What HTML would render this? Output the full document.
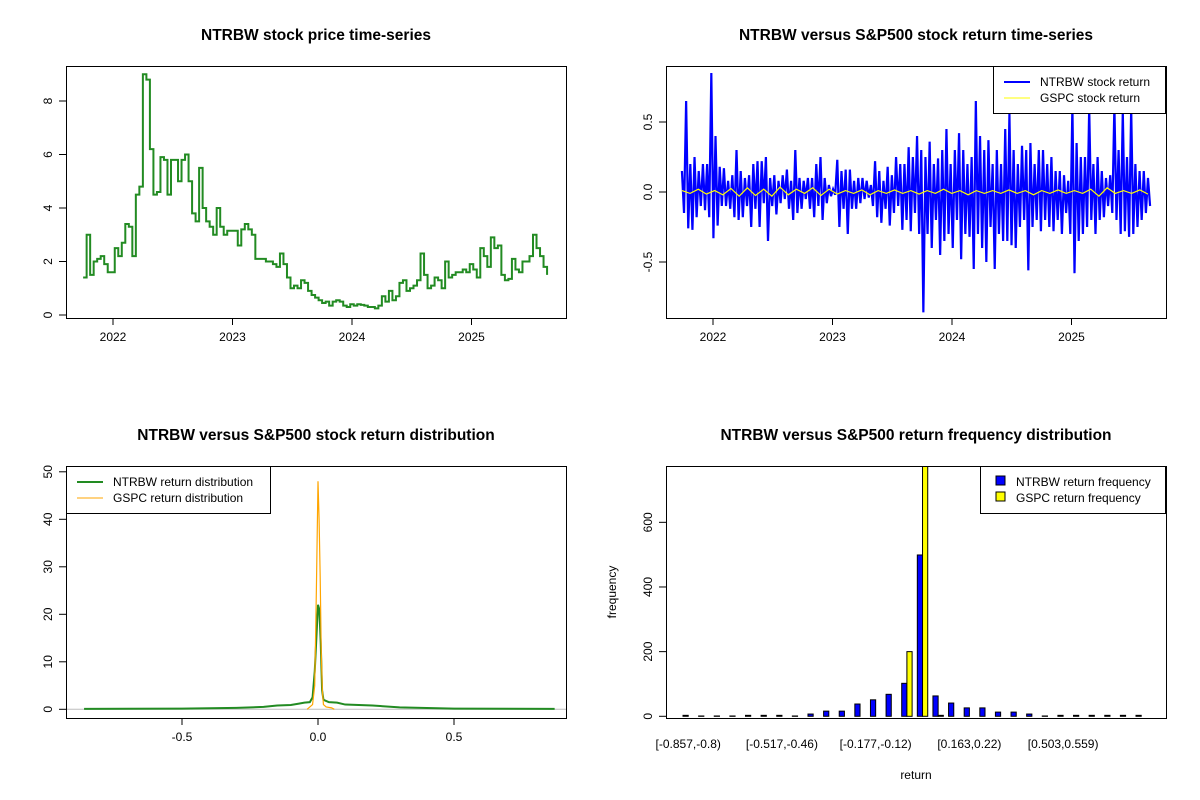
<!DOCTYPE html>
<html><head><meta charset="utf-8"><style>
html,body{margin:0;padding:0;background:#fff;}
svg{display:block;font-family:"Liberation Sans",Arial,sans-serif;}
</style></head><body>
<svg id="root" width="1200" height="800" viewBox="0 0 1200 800"></svg>
<script>
// ---------- DATA ----------
const priceStart = 2021.75;
const priceStep = 10/340;
const priceValues = [1.4,3.0,1.5,2.0,2.1,2.2,1.9,1.6,1.6,2.5,2.2,2.7,3.4,3.3,2.2,4.5,4.8,9.0,8.8,6.2,4.5,4.6,5.9,5.8,4.5,5.8,5.8,5.0,5.8,6.0,5.0,3.8,3.5,5.5,4.0,3.5,3.3,3.0,4.0,3.3,3.0,3.15,3.15,3.15,2.6,3.2,3.4,3.2,3.0,2.1,2.1,2.1,2.0,2.0,1.9,1.8,2.3,1.9,1.4,1.0,1.1,1.0,1.3,1.2,0.9,0.75,0.65,0.55,0.45,0.5,0.35,0.5,0.55,0.5,0.35,0.3,0.4,0.35,0.4,0.38,0.35,0.3,0.3,0.25,0.35,0.7,0.5,0.9,0.55,0.7,1.2,1.3,0.9,1.0,1.1,1.3,2.3,1.5,1.0,1.1,1.4,1.3,1.0,2.0,1.4,1.5,1.6,1.6,1.7,1.6,1.9,1.7,1.4,2.5,2.2,1.8,2.9,2.5,2.6,1.5,1.3,1.35,2.1,1.7,1.6,2.0,2.0,2.2,3.0,2.5,2.2,1.8,1.5];
const priceTicks = [0,2,4,6,8];
const yearTicks = [2022,2023,2024,2025];

const retStart = 2021.74, retEnd = 2025.64;
const retHigh = [0.15,0.65,0.2,0.25,0.15,0.2,0.2,0.85,0.4,0.18,0.17,0.08,0.12,0.3,0.15,0.1,0.12,0.2,0.22,0.22,0.25,0.1,0.12,0.08,0.12,0.16,0.08,0.3,0.1,0.08,0.1,0.1,0.2,0.25,0.1,0.05,0.02,0.23,0.15,0.16,0.16,0.08,0.1,0.1,0.08,0.05,0.22,0.15,0.08,0.18,0.12,0.25,0.2,0.2,0.32,0.25,0.4,0.3,0.25,0.36,0.2,0.24,0.3,0.45,0.2,0.3,0.42,0.3,0.2,0.25,0.65,0.4,0.3,0.37,0.2,0.3,0.2,0.45,0.56,0.3,0.2,0.33,0.3,0.35,0.2,0.3,0.3,0.2,0.25,0.15,0.15,0.12,0.08,0.62,0.35,0.25,0.25,0.6,0.2,0.25,0.15,0.1,0.12,0.62,0.3,0.58,0.25,0.6,0.2,0.15,0.15,0.1];
const retLow = [-0.15,-0.26,-0.27,-0.18,-0.1,-0.13,-0.18,-0.33,-0.24,-0.1,-0.1,-0.12,-0.18,-0.2,-0.18,-0.1,-0.25,-0.12,-0.25,-0.08,-0.35,-0.1,-0.16,-0.08,-0.05,-0.12,-0.2,-0.15,-0.12,-0.05,-0.12,-0.18,-0.1,-0.2,-0.08,-0.03,-0.02,-0.25,-0.12,-0.3,-0.12,-0.12,-0.08,-0.05,-0.04,-0.1,-0.18,-0.22,-0.12,-0.24,-0.15,-0.1,-0.27,-0.2,-0.28,-0.15,-0.3,-0.86,-0.3,-0.4,-0.2,-0.45,-0.35,-0.3,-0.4,-0.2,-0.48,-0.3,-0.32,-0.55,-0.3,-0.4,-0.5,-0.25,-0.55,-0.3,-0.35,-0.35,-0.38,-0.4,-0.25,-0.2,-0.56,-0.25,-0.2,-0.28,-0.2,-0.25,-0.28,-0.2,-0.3,-0.15,-0.3,-0.58,-0.35,-0.3,-0.25,-0.2,-0.3,-0.2,-0.18,-0.1,-0.15,-0.2,-0.3,-0.28,-0.32,-0.3,-0.25,-0.2,-0.15,-0.1];
const gspcRet = [0.01,-0.01,0.02,-0.015,0.01,-0.02,0.025,-0.03,0.03,-0.025,0.02,-0.03,0.035,-0.02,0.02,-0.01,0.03,-0.025,0.02,-0.015,0.01,-0.01,0.015,-0.02,0.01,-0.01,0.015,-0.01,0.01,-0.015,0.01,-0.01,0.02,-0.01,0.01,-0.02,0.01,-0.01,0.01,-0.01,0.015,-0.01,0.01,-0.02,0.01,-0.01,0.015,-0.01,0.01,-0.01,0.02,-0.03,0.03,-0.01,0.01,-0.01,0.015,-0.015];
const retTicks = [-0.5,0.0,0.5];

const densX = [-0.86,-0.5,-0.3,-0.2,-0.15,-0.1,-0.07,-0.05,-0.03,-0.02,-0.012,-0.006,0,0.005,0.01,0.015,0.02,0.04,0.07,0.1,0.2,0.3,0.5,0.87];
const densNTRBW = [0.1,0.15,0.3,0.5,0.8,0.9,1.2,1.4,1.5,2.5,8,15,22,21,14,4,2,1.5,1.4,1,0.8,0.4,0.15,0.1];
const densGX = [-0.04,-0.03,-0.02,-0.012,-0.006,0,0.004,0.008,0.012,0.016,0.02,0.03,0.05,0.06];
const densGSPC = [0,0.5,1,5,25,48,40,28,12,4,1,0.5,0.3,0];
const densXTicks = [-0.5,0.0,0.5];
const densYTicks = [0,10,20,30,40,50];

const histLabels = ["[-0.857,-0.8)","[-0.517,-0.46)","[-0.177,-0.12)","[0.163,0.22)","[0.503,0.559)"];
const histLabelIdx = [0,6,12,18,24];
const histNTRBW = [3,1,1,1,3,3,3,1,7,16,16,38,51,68,102,499,63,41,26,26,13,13,7,1,3,3,3,3,3,3];
const histGSPC = [0,0,0,0,0,0,0,0,0,0,0,0,0,0,200,860,3,0,0,0,0,0,0,0,0,0,0,0,0,0];
const histYTicks = [0,200,400,600];

// ---------- HELPERS ----------
const NS="http://www.w3.org/2000/svg";
const root=document.getElementById('root');
function mk(tag,attrs,parent,txt){const e=document.createElementNS(NS,tag);for(const k in attrs)e.setAttribute(k,attrs[k]);if(txt!==undefined)e.textContent=txt;(parent||root).appendChild(e);return e;}
function fmt(v){return v.toFixed(1);}
function box(g,x0,y0,x1,y1){const r=mk('rect',{x:x0+.5,y:y0+.5,width:x1-x0,height:y1-y0,fill:'none',stroke:'#000','stroke-width':1},g);

}
function title(g,x,y,t){const e=mk('text',{x:x,y:y,'text-anchor':'middle','font-size':'15.5','font-weight':'bold'},g,t);

}
function xtick(g,x,yb,label){mk('line',{x1:x,x2:x,y1:yb,y2:yb+7,stroke:'#000'},g);
const t=mk('text',{x:x,y:yb+23,'text-anchor':'middle','font-size':'12'},g,label);

}
function ytick(g,y,xl,label){mk('line',{x1:xl-7,x2:xl,y1:y,y2:y,stroke:'#000'},g);
const t=mk('text',{x:0,y:0,'text-anchor':'middle','font-size':'12',transform:`translate(${xl-14},${y}) rotate(-90)`},g,label);

}
function group(name){const g=mk('g',{});return g;}

// ---------- PANEL 1: price ----------
(function(){
const g=group('price-panel');
const X0=66,X1=566,Y0=66,Y1=318;
const xs=t=>113+(t-2022)*119.5, ys=v=>315-v*26.75;
title(g,316,40,'NTRBW stock price time-series');
let d='';
priceValues.forEach((v,i)=>{const x=xs(priceStart+i*priceStep);const y=ys(v);
 if(i===0)d+=`M${x},${y}`;else d+=`H${x}V${y}`;});
const p=mk('path',{d:d,fill:'none',stroke:'#228B22','stroke-width':2},g);


box(g,X0,Y0,X1,Y1);
yearTicks.forEach(t=>xtick(g,xs(t),Y1,String(t)));
priceTicks.forEach(v=>ytick(g,ys(v),X0,String(v)));
})();

// ---------- PANEL 2: returns ----------
(function(){
const g=group('return-panel');
const X0=666,X1=1166,Y0=66,Y1=318;
const xs=t=>713+(t-2022)*119.5, ys=v=>192-v*140;
title(g,916,40,'NTRBW versus S&P500 stock return time-series');
const n=retHigh.length;let d='';
for(let i=0;i<n;i++){const t=retStart+(retEnd-retStart)*i/(n-1);const t2=t+(retEnd-retStart)/(n-1)/2;
 d+=(i===0?'M':'L')+xs(t)+','+ys(retHigh[i])+'L'+xs(t2)+','+ys(retLow[i]);}
const p=mk('path',{d:d,fill:'none',stroke:'#0000FF','stroke-width':2.2},g);


let d2='';const m=gspcRet.length;
gspcRet.forEach((v,i)=>{const t=retStart+(retEnd-retStart)*i/(m-1);d2+=(i===0?'M':'L')+xs(t)+','+ys(v);});
const p2=mk('path',{d:d2,fill:'none',stroke:'#FFFF00','stroke-width':1.2},g);


box(g,X0,Y0,X1,Y1);
yearTicks.forEach(t=>xtick(g,xs(t),Y1,String(t)));
retTicks.forEach(v=>ytick(g,ys(v),X0,fmt(v)));
const lg=group('legend');
mk('rect',{x:993.5,y:66.5,width:172,height:47,fill:'#fff',stroke:'#000'},lg);
mk('line',{x1:1004,x2:1030,y1:82,y2:82,stroke:'#0000FF','stroke-width':2},lg);
mk('line',{x1:1004,x2:1030,y1:98,y2:98,stroke:'#FFFF00','stroke-width':1},lg);
const a=mk('text',{x:1040,y:86,'font-size':'12'},lg,'NTRBW stock return');


const b=mk('text',{x:1040,y:102,'font-size':'12'},lg,'GSPC stock return');


})();

// ---------- PANEL 3: density ----------
(function(){
const g=group('density-panel');
const X0=66,X1=566,Y0=466,Y1=718;
const xs=v=>318+v*272, ys=v=>709.3-v*4.75;
title(g,316,440,'NTRBW versus S&P500 stock return distribution');
const base=mk('line',{x1:X0,x2:X1,y1:ys(0),y2:ys(0),stroke:'#bebebe'},g);


const p=mk('polyline',{points:densX.map((x,i)=>xs(x)+','+ys(densNTRBW[i])).join(' '),fill:'none',stroke:'#228B22','stroke-width':2},g);


const p2=mk('polyline',{points:densGX.map((x,i)=>xs(x)+','+ys(densGSPC[i])).join(' '),fill:'none',stroke:'#FFA500','stroke-width':1.2},g);


box(g,X0,Y0,X1,Y1);
densXTicks.forEach(v=>xtick(g,xs(v),Y1,fmt(v)));
densYTicks.forEach(v=>ytick(g,ys(v),X0,String(v)));
const lg=group('legend');
mk('rect',{x:66.5,y:466.5,width:204,height:47,fill:'#fff',stroke:'#000'},lg);
mk('line',{x1:77,x2:103,y1:482,y2:482,stroke:'#228B22','stroke-width':2},lg);
mk('line',{x1:77,x2:103,y1:498,y2:498,stroke:'#FFA500','stroke-width':1},lg);
const a=mk('text',{x:113,y:486,'font-size':'12'},lg,'NTRBW return distribution');


const b=mk('text',{x:113,y:502,'font-size':'12'},lg,'GSPC return distribution');


})();

// ---------- PANEL 4: histogram ----------
(function(){
const g=group('histogram-panel');
const X0=666,X1=1166,Y0=466,Y1=718;
const n=histNTRBW.length, span=n*3*1.067, off=n*3*0.0252;
const xu=u=>X0+(u+off)/span*500;
const ys=v=>716.3-v*0.3233;
title(g,916,440,'NTRBW versus S&P500 return frequency distribution');
const clip=mk('clipPath',{id:'hc'},g);mk('rect',{x:X0,y:Y0,width:500,height:Y1-Y0},clip);
const bars=mk('g',{'clip-path':'url(#hc)'},g);
for(let i=0;i<n;i++){
 const u=i*3+1;
 const b1=mk('rect',{x:xu(u),y:ys(histNTRBW[i]),width:xu(u+1)-xu(u),height:ys(0)-ys(histNTRBW[i]),fill:'#0000FF',stroke:'#000','stroke-width':1},bars);
 
 
 const b2=mk('rect',{x:xu(u+1),y:ys(histGSPC[i]),width:xu(u+2)-xu(u+1),height:ys(0)-ys(histGSPC[i]),fill:'#FFFF00',stroke:'#000','stroke-width':1},bars);
 
 
}
box(g,X0,Y0,X1,Y1);
histLabelIdx.forEach((k,j)=>{const t=mk('text',{x:xu(k*3+2),y:748,'text-anchor':'middle','font-size':'12'},g,histLabels[j]);
 
 });
histYTicks.forEach(v=>ytick(g,ys(v),X0,String(v)));
const xl=mk('text',{x:916,y:779,'text-anchor':'middle','font-size':'12'},g,'return');


const yl=mk('text',{x:0,y:0,'text-anchor':'middle','font-size':'12',transform:'translate(616,592) rotate(-90)'},g,'frequency');


const lg=group('legend');
mk('rect',{x:980.5,y:466.5,width:185,height:47,fill:'#fff',stroke:'#000'},lg);
mk('rect',{x:996,y:476,width:9,height:9,fill:'#0000FF',stroke:'#000'},lg);
mk('rect',{x:996,y:492,width:9,height:9,fill:'#FFFF00',stroke:'#000'},lg);
const a=mk('text',{x:1016,y:486,'font-size':'12'},lg,'NTRBW return frequency');


const b=mk('text',{x:1016,y:502,'font-size':'12'},lg,'GSPC return frequency');


})();
</script>
</body></html>
